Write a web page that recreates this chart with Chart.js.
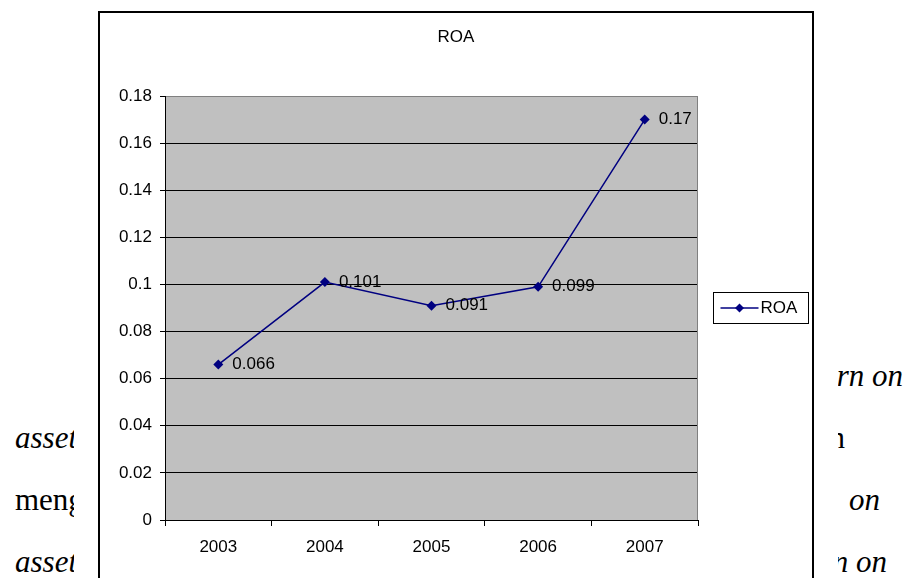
<!DOCTYPE html>
<html><head><meta charset="utf-8">
<script src="https://cdn.jsdelivr.net/npm/chart.js@4/dist/chart.umd.min.js"></script>
<style>
html,body{margin:0;padding:0;background:#fff;width:907px;height:578px;overflow:hidden;}
.t{position:absolute;font-family:"Liberation Serif","Times New Roman",serif;font-size:31px;white-space:nowrap;color:#000;line-height:1;}
.i{font-style:italic;}
#cover{position:absolute;left:74px;top:0;width:764px;height:578px;background:#fff;}
#frame{position:absolute;left:98px;top:11px;width:712px;height:600px;border:2px solid #000;background:#fff;}
#c{position:absolute;left:0;top:0;}
</style></head><body>
<span class="t i" style="right:4px;top:360px;">return on</span>
<span class="t i" style="left:15px;top:422px;">asset</span>
<span class="t" style="right:62px;top:422px;">dan</span>
<span class="t" style="left:15px;top:484px;">menggunakan</span>
<span class="t i" style="left:849px;top:484px;">on</span>
<span class="t i" style="left:15px;top:546px;">asset</span>
<span class="t i" style="right:20px;top:546px;">return on</span>
<div id="cover"></div>
<div id="frame"><canvas id="c" width="712" height="565"></canvas></div>
<script>
const years = ['2003', '2004', '2005', '2006', '2007'];
const roa = [0.066, 0.101, 0.091, 0.099, 0.17];
const seriesName = 'ROA';
const chartTitle = 'ROA';
const yMin = 0, yMax = 0.18, yStep = 0.02;

const FONT = "'Liberation Sans', Arial, sans-serif";
const NAVY = '#000080';

const plotBg = {
  id: 'plotBg',
  beforeDraw(chart) {
    const {ctx, chartArea: a} = chart;
    ctx.save();
    ctx.fillStyle = '#C0C0C0';
    ctx.fillRect(a.left, a.top, a.right - a.left, a.bottom - a.top);
    ctx.restore();
  },
  beforeDatasetsDraw(chart) {
    const {ctx, chartArea: a} = chart;
    ctx.save();
    ctx.strokeStyle = '#808080';
    ctx.lineWidth = 1;
    ctx.beginPath();
    const r = Math.round(a.right) - 0.5;
    ctx.moveTo(r, a.top);
    ctx.lineTo(r, a.bottom);
    ctx.stroke();
    ctx.restore();
  }
};

const dataLabels = {
  id: 'dataLabels',
  afterDatasetsDraw(chart) {
    const {ctx} = chart;
    ctx.save();
    ctx.font = '17px ' + FONT;
    ctx.fillStyle = '#000';
    ctx.textAlign = 'left';
    ctx.textBaseline = 'middle';
    chart.data.datasets.forEach((ds, di) => {
      const meta = chart.getDatasetMeta(di);
      meta.data.forEach((pt, i) => {
        ctx.fillText(String(ds.data[i]), pt.x + 14, pt.y);
      });
    });
    ctx.restore();
  }
};

const boxLegend = {
  id: 'boxLegend',
  afterDraw(chart) {
    const {ctx} = chart;
    const ds = chart.data.datasets[0];
    const bx = 613.5, by = 279.5, bw = 95, bh = 31;
    ctx.save();
    ctx.fillStyle = '#fff';
    ctx.fillRect(bx, by, bw, bh);
    ctx.strokeStyle = '#000';
    ctx.lineWidth = 1;
    ctx.strokeRect(bx, by, bw, bh);
    const ly = by + bh / 2;
    ctx.strokeStyle = ds.borderColor;
    ctx.lineWidth = 1.5;
    ctx.beginPath();
    ctx.moveTo(bx + 7, ly);
    ctx.lineTo(bx + 45, ly);
    ctx.stroke();
    const cx = bx + 26, r = 4.5;
    ctx.fillStyle = ds.pointBackgroundColor;
    ctx.beginPath();
    ctx.moveTo(cx, ly - r); ctx.lineTo(cx + r, ly); ctx.lineTo(cx, ly + r); ctx.lineTo(cx - r, ly);
    ctx.closePath();
    ctx.fill();
    ctx.fillStyle = '#000';
    ctx.font = '17px ' + FONT;
    ctx.textAlign = 'left';
    ctx.textBaseline = 'middle';
    ctx.fillText(ds.label, bx + 47, ly + 0.5);
    ctx.restore();
  }
};

new Chart(document.getElementById('c'), {
  type: 'line',
  data: {
    labels: years,
    datasets: [{
      label: seriesName,
      data: roa,
      yAxisID: 'y',
      borderColor: NAVY,
      backgroundColor: NAVY,
      borderWidth: 1.5,
      pointStyle: 'rectRot',
      pointRadius: 5,
      pointBorderWidth: 0,
      pointBackgroundColor: NAVY,
      pointBorderColor: NAVY,
      tension: 0,
      fill: false
    }]
  },
  options: {
    responsive: false,
    animation: false,
    devicePixelRatio: 1,
    layout: { padding: 0 },
    plugins: {
      legend: { display: false },
      tooltip: { enabled: false },
      title: {
        display: true,
        text: chartTitle,
        color: '#000',
        font: { family: FONT, size: 17, weight: 'normal' },
        padding: { top: 14.4, bottom: 48.2 }
      }
    },
    scales: {
      x: {
        type: 'category',
        offset: true,
        grid: { offset: true, drawOnChartArea: false, drawTicks: true, tickLength: 6, color: '#000', tickColor: '#000' },
        border: { display: true, color: '#000', width: 1 },
        ticks: { color: '#000', font: { family: FONT, size: 17 }, padding: 11, maxRotation: 0, autoSkip: false },
        afterFit(s) { s.height = 58; }
      },
      y: {
        position: 'left',
        min: yMin,
        max: yMax,
        ticks: {
          stepSize: yStep,
          color: '#000',
          font: { family: FONT, size: 17 },
          padding: 8,
          callback: v => String(+Number(v).toFixed(2))
        },
        grid: {
          color: c => (c.tick && c.tick.value >= yMax - 1e-9) ? '#808080' : '#000',
          tickColor: '#000',
          tickLength: 5,
          drawTicks: true,
          lineWidth: 1
        },
        border: { display: true, color: '#000', width: 1 },
        afterFit(s) { s.width = 65; }
      },
      yRight: {
        position: 'right',
        display: true,
        ticks: { display: false },
        grid: { display: false, drawOnChartArea: false, drawTicks: false },
        border: { display: false },
        afterFit(s) { s.width = 114; }
      }
    }
  },
  plugins: [plotBg, dataLabels, boxLegend]
});
</script>
</body></html>
